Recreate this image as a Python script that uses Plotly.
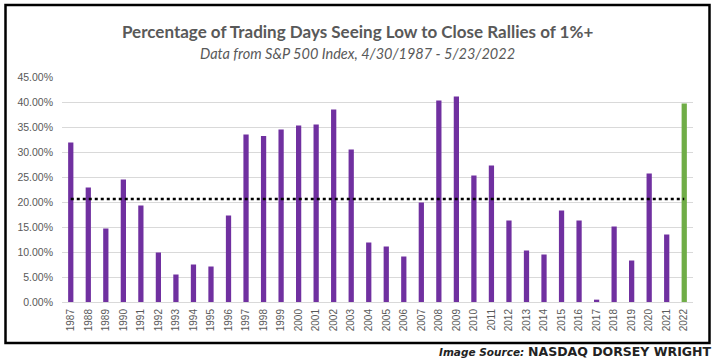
import plotly.graph_objects as go

years = [str(y) for y in range(1987, 2023)]
pct_days = [31.9, 22.9, 14.7, 24.5, 19.3, 9.9, 5.5, 7.5, 7.1, 17.3, 33.5,
            33.2, 34.5, 35.3, 35.5, 38.5, 30.5, 11.9, 11.1, 9.1, 19.9, 40.3,
            41.1, 25.3, 27.3, 16.3, 10.3, 9.5, 18.3, 16.3, 0.47, 15.1, 8.3,
            25.7, 13.5, 39.7]
average_pct = 20.6
y_ticks = [0, 5, 10, 15, 20, 25, 30, 35, 40, 45]

title_text = "Percentage of Trading Days Seeing Low to Close Rallies of 1%+"
subtitle_text = "Data from S&P 500 Index, 4/30/1987 - 5/23/2022"

PURPLE = "#7030A0"
GREEN = "#70AD47"
bar_colors = [PURPLE] * (len(years) - 1) + [GREEN]

values = [v / 100 for v in pct_days]

# plot area in pixels
L, R, T, B = 62, 693, 77, 302
W, H = R - L, B - T

def px_x(x):
    return (x - L) / W

def px_y(y):
    return (B - y) / H

fig = go.Figure()
fig.add_trace(go.Bar(x=years, y=values, marker=dict(color=bar_colors, line=dict(width=0)),
                     showlegend=False, hoverinfo="x+y"))
fig.add_trace(go.Scatter(x=years, y=[average_pct / 100] * len(years), mode="lines",
                         line=dict(color="black", width=2.5, dash="dot"),
                         showlegend=False, hoverinfo="skip"))

fig.update_layout(
    width=717, height=362,
    margin=dict(l=L, r=717 - R, t=T, b=362 - B),
    paper_bgcolor="white", plot_bgcolor="white",
    bargap=0.70,
    xaxis=dict(type="category", tickangle=-90, showgrid=False, showline=False,
               ticks="", tickfont=dict(family="Liberation Sans", size=10, color="#595959"),
               ticklabelstandoff=4, fixedrange=True),
    yaxis=dict(range=[0, 0.45], tickvals=[t / 100 for t in y_ticks], tickformat=".2%",
               showgrid=True, gridcolor="#D9D9D9", gridwidth=1, zeroline=True,
               zerolinecolor="#D9D9D9", zerolinewidth=1, showline=False, ticks="",
               tickfont=dict(family="Liberation Sans", size=10.5, color="#595959"),
               ticklabelstandoff=8, fixedrange=True),
    shapes=[dict(type="rect", xref="paper", yref="paper",
                 x0=px_x(5.5), x1=px_x(709.5), y0=px_y(343), y1=px_y(5),
                 line=dict(color="black", width=2.5), fillcolor="rgba(0,0,0,0)")],
    annotations=[
        dict(text="<b>" + title_text + "</b>", xref="paper", yref="paper",
             x=px_x(357), y=px_y(31), xanchor="center", yanchor="middle", showarrow=False,
             font=dict(family="Lato", size=17, color="#595959")),
        dict(text="<i>" + subtitle_text + "</i>", xref="paper", yref="paper",
             x=px_x(357), y=px_y(53), xanchor="center", yanchor="middle", showarrow=False,
             font=dict(family="Lato", size=14.5, color="#595959")),
        dict(text="<span style='font-size:10.5px'><i><b>Image Source:</b></i></span> "
                  "<span style='font-size:12.5px'><b>NASDAQ DORSEY WRIGHT</b></span>",
             xref="paper", yref="paper",
             x=px_x(714), y=px_y(351.5), xanchor="right", yanchor="middle", showarrow=False,
             font=dict(family="DejaVu Sans", size=12, color="#222222")),
    ],
)

fig.write_html("out.html", config={"displayModeBar": False},
               post_script="document.body.style.margin='0';document.body.style.overflow='hidden';")
